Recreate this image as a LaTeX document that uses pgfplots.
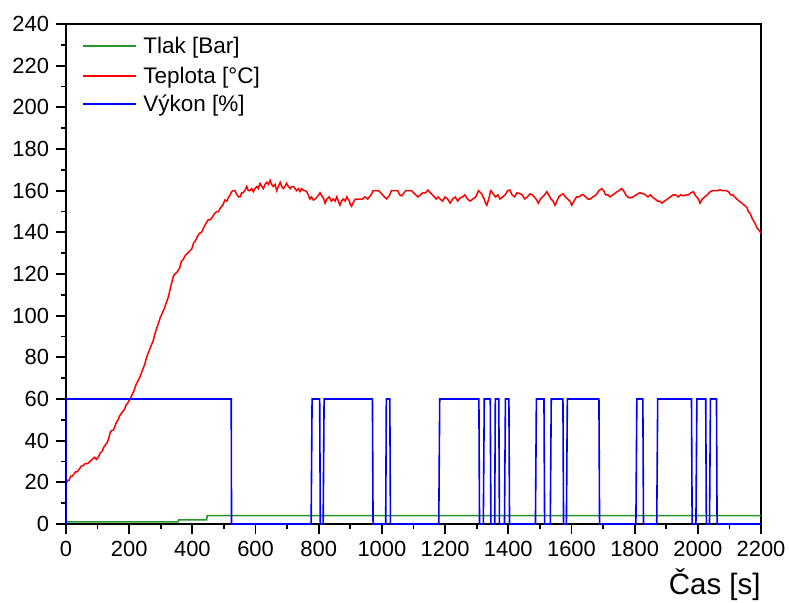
\documentclass[border=0pt]{standalone}
\usepackage{fontspec}
\setmainfont{Liberation Sans}
\usepackage{pgfplots}
\pgfplotsset{compat=1.18}
\definecolor{tlak}{RGB}{40,150,40}
\definecolor{tepl}{RGB}{255,0,0}
\definecolor{vykon}{RGB}{0,0,255}
\newcommand{\lgf}{\fontsize{11.3}{13}\selectfont}

\begin{document}
\begin{tikzpicture}
  % frame of the whole picture (1 px of the reference = 0.5bp)
  \path[use as bounding box] (-33bp,-39.5bp) rectangle (361.5bp,262bp);
  \begin{axis}[
    at={(0,0)}, anchor=south west,
    scale only axis, width=347.5bp, height=250bp,
    xmin=0, xmax=2200, ymin=0, ymax=240,
    xtick distance=200, ytick distance=20,
    minor x tick num=1, minor y tick num=1,
    xtick pos=bottom, ytick pos=left,
    tick align=outside,
    major tick length=5bp, minor tick length=2.5bp,
    axis line style={line width=1bp},
    every tick/.style={black, line width=0.9bp},
    /pgf/number format/assume math mode=true,
    /pgf/number format/1000 sep={},
    tick label style={font=\fontsize{11}{12}\selectfont},
    xlabel={Čas [s]},
    xlabel style={at={(rel axis cs:1,0)}, anchor=north east, inner sep=0pt,
      yshift=-22bp, font=\fontsize{14.8}{16}\selectfont},
  ]
    % Tlak
    \addplot[color=tlak, line width=0.8bp] coordinates {
      (0,1) (355,1) (357,2) (445,2) (447,4) (2200,4)
    };
    % Teplota
    \addplot[color=tepl, line width=0.75bp] coordinates {
      (0,19) (5,21) (10,21) (15,23) (20,23) (25,24) (30,25) (35,25) (40,26) (45,27)
      (50,28) (55,28) (60,29) (68,29) (76,30) (83,31) (90,32) (96,31) (102,32) (108,34)
      (115,35) (120,37) (125,38) (130,39) (135,41) (140,44) (145,45) (150,45) (155,47)
      (160,49) (165,50) (170,52) (175,53) (180,54) (185,55) (190,57) (195,58) (199,59)
      (203,60) (209,62) (215,64) (222,67) (229,69) (235,71) (240,73) (245,75) (250,77)
      (255,80) (260,82) (268,85) (276,88) (281,91) (287,94) (292,96) (298,99) (304,101)
      (310,103) (317,106) (324,109) (330,113) (335,116) (340,119) (345,120) (352,121)
      (356,122) (360,123) (365,126) (371,127) (378,129) (385,130) (391,131) (398,132)
      (404,135) (410,136) (416,138) (422,139.5) (429,140) (435,142) (442,144) (450,146)
      (456,146) (462,147) (470,149) (477,150) (483,150) (490,152) (496,153) (503,155.5)
      (509,155) (515,157) (520,158) (524,159.5) (530,160) (535,160) (541,158) (547,157)
      (551,157) (556,159) (560,159) (566,160) (572,162) (577,160) (582,160) (588,161)
      (593,159.5) (598,161) (604,162) (609,161) (614,163.5) (620,162) (625,161) (630,163)
      (635,164) (641,163) (646,165) (651,163) (656,162) (662,163) (667,160) (672,162)
      (678,164) (683,162) (688,161) (693,162) (698,163.5) (704,162) (710,161) (715,162)
      (720,162) (725,161) (730,160) (736,161) (741,159.6) (746,161) (752,160) (757,160)
      (762,159.5) (767,158) (772,156) (777,157) (783,155.5) (789,156) (795,157) (800,158)
      (804,159) (808,158) (812,157) (816,156) (820,154) (826,156) (833,157) (840,155)
      (846,156) (852,155) (857,157) (862,155) (867,153) (872,155) (878,156) (884,155)
      (889,157) (893,156) (897,155) (901,153) (904,152.5) (908,154) (912,155) (916,156)
      (921,156) (930,156) (938,156) (946,157) (955,156) (960,157) (966,158) (972,160)
      (978,160) (984,160) (990,160) (996,159) (1002,158) (1008,157) (1015,156) (1020,157)
      (1025,158) (1030,160) (1035,160) (1042,160) (1050,160) (1056,158) (1063,157.5)
      (1070,159) (1076,160) (1082,160) (1089,160) (1094,160) (1100,159) (1107,158)
      (1114,157) (1122,158) (1130,159) (1138,159) (1146,160.3) (1153,159) (1160,158)
      (1166,157) (1172,156) (1178,157) (1184,156) (1192,155) (1200,157) (1208,156)
      (1216,154) (1224,156) (1232,157) (1240,155) (1247,156.5) (1255,157) (1263,158)
      (1271,156) (1279,155) (1288,156) (1297,157) (1306,160) (1316,158.5) (1320,157)
      (1324,156) (1328,154) (1332,153) (1336,155) (1340,157) (1344,160) (1348,159.5)
      (1354,158) (1360,157) (1367,158) (1374,156) (1382,157) (1390,158) (1398,160)
      (1405,160.3) (1412,158) (1420,157) (1428,159) (1437,158.5) (1444,158) (1452,156)
      (1460,157) (1469,158.5) (1476,158) (1482,157) (1488,156) (1495,154) (1502,156)
      (1508,157) (1515,158) (1522,159.5) (1528,158) (1535,156) (1542,155) (1548,153)
      (1554,155) (1560,157) (1567,158) (1574,158.5) (1581,157) (1588,156) (1595,155)
      (1601,153) (1608,155) (1616,157) (1624,157) (1632,158) (1638,158) (1645,157)
      (1652,156) (1659,156) (1668,157) (1678,158) (1687,160) (1696,161) (1702,160)
      (1708,158) (1715,158) (1722,157) (1731,158) (1740,159) (1750,160) (1759,161)
      (1765,160) (1772,158) (1778,157) (1785,156.5) (1795,157) (1805,158) (1816,159)
      (1827,158.5) (1834,158) (1842,157) (1850,158) (1859,156.5) (1865,156) (1872,155)
      (1879,155) (1886,154) (1895,155) (1904,156) (1913,157) (1922,158) (1930,158)
      (1938,157) (1946,158) (1954,157.5) (1962,158) (1970,158) (1978,159) (1986,159.5)
      (1991,158) (1996,157) (2002,156) (2007,154) (2014,156) (2022,157) (2030,158)
      (2039,159.5) (2047,160) (2055,160) (2062,160) (2070,160.5) (2077,160) (2084,160)
      (2090,160) (2097,159.5) (2104,158) (2110,158) (2117,157) (2123,156) (2131,155)
      (2140,154) (2147,153) (2155,152) (2160,150) (2166,149) (2171,147) (2176,145.5)
      (2182,144) (2188,142) (2194,141) (2200,139.5)
    };
    % Vykon
    \addplot[color=vykon, line width=0.8bp] coordinates {
      (0,0) (0,60) (523,60) (524,0) (776,0) (779,60) (803,60) (805,0) (814,0) (817,60)
      (970,60) (972,0) (1012,0) (1014,60) (1025,60) (1027,0) (1180,0) (1183,60)
      (1307,60) (1309,0) (1321,0) (1324,60) (1343,60) (1345,0) (1357,0) (1359,60)
      (1370,60) (1372,0) (1388,0) (1391,60) (1402,60) (1404,0) (1486,0) (1489,60)
      (1513,60) (1515,0) (1533,0) (1536,60) (1573,60) (1575,0) (1584,0) (1587,60)
      (1687,60) (1689,0) (1804,0) (1807,60) (1826,60) (1828,0) (1870,0) (1873,60)
      (1980,60) (1982,0) (1994,0) (1997,60) (2025,60) (2027,0) (2037,0) (2040,60)
      (2059,60) (2061,0) (2200,0)
    };
  \end{axis}
  % legend, by hand, in the axis frame (plot area is 347.5bp x 250bp from the origin)
  \fill[fill=tlak] (8.5bp,238.6bp) rectangle (35bp,239.4bp);
  \fill[fill=tepl] (8.5bp,223.6bp) rectangle (35bp,224.4bp);
  \fill[fill=vykon] (8.5bp,209.6bp) rectangle (35bp,210.4bp);
  \node[anchor=base west, inner sep=0pt, font=\lgf] at (38.5bp,235bp) {Tlak [Bar]};
  \node[anchor=base west, inner sep=0pt, font=\lgf] at (38.5bp,220bp) {Teplota [°C]};
  \node[anchor=base west, inner sep=0pt, font=\lgf] at (38.5bp,206bp) {Výkon [\%]};
\end{tikzpicture}
\end{document}
